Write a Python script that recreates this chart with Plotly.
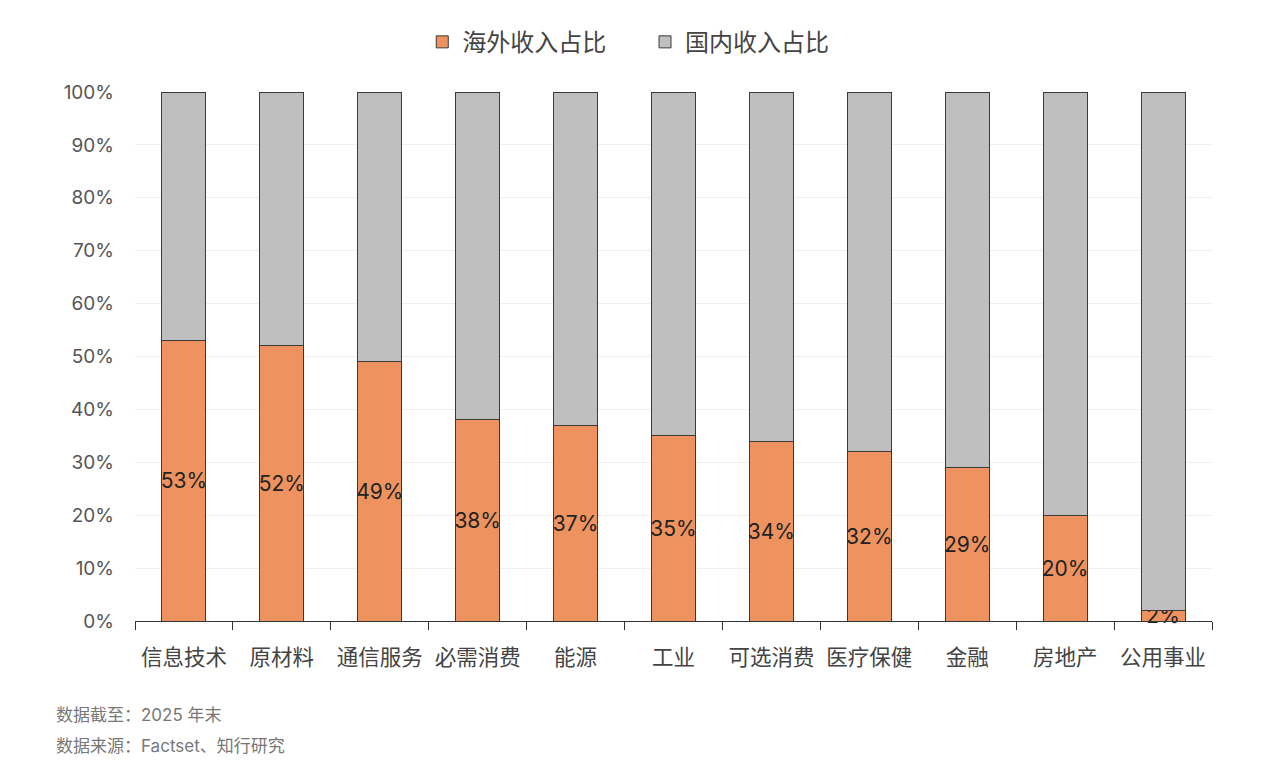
import plotly.graph_objects as go

categories = ["信息技术", "原材料", "通信服务", "必需消费", "能源", "工业",
              "可选消费", "医疗保健", "金融", "房地产", "公用事业"]
overseas = [53, 52, 49, 38, 37, 35, 34, 32, 29, 20, 2]
domestic = [47, 48, 51, 62, 63, 65, 66, 68, 71, 80, 98]
y_ticks = [0, 10, 20, 30, 40, 50, 60, 70, 80, 90, 100]

FONT = "Inter, Noto Sans CJK SC, sans-serif"
ORANGE = "#EE935F"
GREY = "#BFBFBF"
EDGE = "#3a3a3a"


def make_fig():
    trace_over = go.Bar(x=categories, y=overseas, name="海外收入占比     ",
                        marker=dict(color=ORANGE, line=dict(color=EDGE, width=1)),
                        text=[f"{v}%" for v in overseas], textposition="inside",
                        textangle=0, insidetextanchor="middle", constraintext="none",
                        cliponaxis=False,
                        textfont=dict(size=21, color="#222222", family=FONT),
                        hoverinfo="x+y")
    trace_dom = go.Bar(x=categories, y=domestic, name="国内收入占比",
                       marker=dict(color=GREY, line=dict(color=EDGE, width=1)),
                       hoverinfo="x+y")

    layout = go.Layout(
        barmode="stack",
        bargap=0.55,
        width=1280, height=780,
        paper_bgcolor="white", plot_bgcolor="white",
        font=dict(family=FONT, size=19, color="#555555"),
        margin=dict(l=127, r=76, t=82, b=167),
        showlegend=True,
        legend=dict(orientation="h", x=0.458, xanchor="center", y=1.094, yanchor="middle",
                    font=dict(size=24, color="#444444"), itemwidth=30,
                    traceorder="normal"),
        xaxis=dict(type="category", tickson="boundaries", ticks="outside",
                   ticklen=8, tickcolor="#333333", showline=True,
                   linecolor="#333333", linewidth=1, ticklabelstandoff=17,
                   tickfont=dict(size=21.5, color="#444444"), showgrid=False),
        yaxis=dict(range=[0, 100], tickvals=y_ticks,
                   ticktext=[f"{v}%" for v in y_ticks],
                   showgrid=True, gridcolor="#EFEFEF", zeroline=False,
                   tickfont=dict(size=19, color="#555555"), ticks="",
                   ticklabelstandoff=20),
        annotations=[
            dict(text="数据截至：2025 年末", xref="paper", yref="paper",
                 x=-0.0752, y=-0.177, xanchor="left", yanchor="middle",
                 showarrow=False, font=dict(size=17, color="#777777")),
            dict(text="数据来源：Factset、知行研究", xref="paper", yref="paper",
                 x=-0.0752, y=-0.237, xanchor="left", yanchor="middle",
                 showarrow=False, font=dict(size=17, color="#777777")),
        ],
    )
    return go.Figure([trace_over, trace_dom], layout=layout)


if __name__ == "__main__":
    fig = make_fig()
    fig.write_html("out.html")
